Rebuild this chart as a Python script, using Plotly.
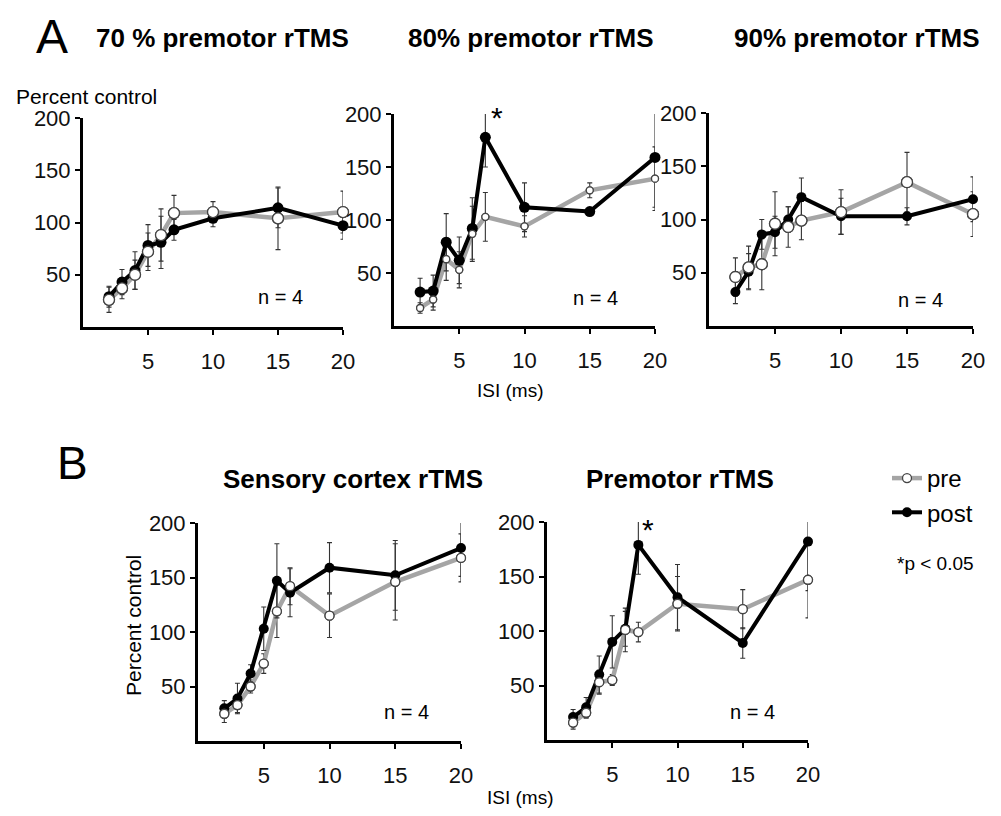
import plotly.graph_objects as go

# The page body has an 8px margin: size the figure so it fits the window exactly.
OFF = 8
W, H = 1001 - 2 * OFF, 816 - 2 * OFF

# ---------------- data ----------------
isi = [2, 3, 4, 5, 6, 7, 10, 15, 20]
x_ticks = [5, 10, 15, 20]
y_ticks = [50, 100, 150, 200]

# Panel A: 70 % premotor rTMS
a70_pre = [26, 37, 50, 72, 88, 109, 110, 104, 110]
a70_pre_err = [12, 10, 14, 18, 25, 17, 10, 30, 20]
a70_post = [29, 43, 54, 78, 81, 93, 104, 114, 97]
a70_post_err = [10, 12, 18, 20, 25, 10, 8, 19, 13]

# Panel A: 80% premotor rTMS
a80_pre = [17, 25, 63, 53, 87, 103, 94, 128, 139]
a80_pre_err = [5, 10, 20, 17, 26, 23, 10, 7, 30]
a80_post = [32, 33, 79, 62, 92, 178, 112, 108, 159]
a80_post_err = [13, 15, 27, 22, 29, 28, 23, 3, 47]

# Panel A: 90% premotor rTMS
a90_pre = [46, 55, 58, 96, 93, 99, 107, 135, 105]
a90_pre_err = [18, 20, 24, 30, 19, 18, 21, 28, 21]
a90_post = [32, 51, 86, 88, 100, 121, 103, 103, 119]
a90_post_err = [11, 17, 14, 15, 12, 18, 17, 8, 21]

# Panel B: Sensory cortex rTMS
bs_pre = [25, 33, 50, 71, 119, 142, 115, 146, 168]
bs_pre_err = [8, 7, 6, 9, 24, 17, 20, 35, 22]
bs_post = [30, 39, 62, 103, 147, 136, 159, 152, 177]
bs_post_err = [7, 14, 8, 20, 34, 22, 23, 32, 26]

# Panel B: Premotor rTMS
bp_pre = [16, 25, 53, 55, 101, 99, 125, 120, 147]
bp_pre_err = [6, 5, 11, 5, 20, 9, 25, 18, 35]
bp_post = [21, 30, 60, 90, 102, 179, 131, 89, 182]
bp_post_err = [7, 9, 17, 24, 16, 27, 30, 14, 45]

titles = ["70 % premotor rTMS", "80% premotor rTMS", "90% premotor rTMS",
          "Sensory cortex rTMS", "Premotor rTMS"]

# ---------------- layout helpers ----------------
FONT = "Liberation Sans, Arial, Helvetica, sans-serif"

def px(p):
    return (p - OFF) / W

def py(p):
    return 1 - (p - OFF) / H

def dx(p0, p1):
    return [px(p0), px(p1)]

def dy(p0, p1):
    return [py(p1), py(p0)]

# pixel boxes (left, right, top, bottom) of each plotting area, in window pixels
boxes = [
    (83, 343, 118, 327),
    (394, 655, 114, 326),
    (709, 973, 113, 326),
    (198, 461, 523, 741),
    (547, 808, 522, 740),
]
pre_sizes = [11, 7, 11, 9, 9]
post_sizes = [11, 11, 10, 10, 10]

panels = [
    (a70_pre, a70_pre_err, a70_post, a70_post_err),
    (a80_pre, a80_pre_err, a80_post, a80_post_err),
    (a90_pre, a90_pre_err, a90_post, a90_post_err),
    (bs_pre, bs_pre_err, bs_post, bs_post_err),
    (bp_pre, bp_pre_err, bp_post, bp_post_err),
]

fig = go.Figure()
GRAY = "#a5a5a5"
ERR = dict(type="data", thickness=1.1, width=2.5, color="#333333")

for i, (pre, pre_e, post, post_e) in enumerate(panels):
    xa = "x" if i == 0 else f"x{i+1}"
    ya = "y" if i == 0 else f"y{i+1}"
    leg = (i == 4)
    fig.add_trace(go.Scatter(
        x=isi, y=pre, xaxis=xa, yaxis=ya, mode="lines+markers", name="pre",
        line=dict(color=GRAY, width=4.5),
        marker=dict(symbol="circle", size=pre_sizes[i], color="white",
                    line=dict(color="#444444", width=1.3)),
        error_y=dict(array=pre_e, **ERR),
        cliponaxis=False, showlegend=leg, legendgroup="pre"))
    fig.add_trace(go.Scatter(
        x=isi, y=post, xaxis=xa, yaxis=ya, mode="lines+markers", name="post",
        line=dict(color="black", width=4),
        marker=dict(symbol="circle", size=post_sizes[i], color="black"),
        error_y=dict(array=post_e, **ERR),
        cliponaxis=False, showlegend=leg, legendgroup="post"))
    fig.add_trace(go.Scatter(
        x=isi, y=pre, xaxis=xa, yaxis=ya, mode="markers", name="pre",
        marker=dict(symbol="circle", size=pre_sizes[i], color="white",
                    line=dict(color="#444444", width=1.3)),
        cliponaxis=False, showlegend=False, legendgroup="pre",
        hoverinfo="skip"))

layout = dict(
    width=W, height=H,
    margin=dict(l=0, r=0, t=0, b=0, pad=0, autoexpand=False),
    paper_bgcolor="white", plot_bgcolor="white",
    font=dict(family=FONT, color="black"),
    showlegend=True,
    legend=dict(x=px(887), y=py(456), xanchor="left", yanchor="top",
                font=dict(size=24, family=FONT), bgcolor="rgba(0,0,0,0)",
                tracegroupgap=0, itemwidth=30),
)

for i, (l, r, t, b) in enumerate(boxes):
    xk = "xaxis" if i == 0 else f"xaxis{i+1}"
    yk = "yaxis" if i == 0 else f"yaxis{i+1}"
    ya = "y" if i == 0 else f"y{i+1}"
    xa = "x" if i == 0 else f"x{i+1}"
    common = dict(showline=True, linewidth=3, linecolor="black", ticks="outside",
                  ticklen=5, tickwidth=2, tickcolor="black", showgrid=False,
                  zeroline=False, tickfont=dict(size=22, family=FONT, color="#111"),
                  fixedrange=True, automargin=False)
    layout[xk] = dict(domain=dx(l, r), range=[0, 20], tickvals=x_ticks,
                      anchor=ya, ticklabelstandoff=8, **common)
    layout[yk] = dict(domain=dy(t, b), range=[0, 200], tickvals=y_ticks,
                      anchor=xa, **common)

fig.update_layout(**layout)

def ann(text, x, y, size, bold=False, angle=0, xanchor="center"):
    fig.add_annotation(
        text=f"<b>{text}</b>" if bold else text,
        x=px(x), y=py(y), xref="paper", yref="paper",
        xanchor=xanchor, yanchor="middle", showarrow=False, textangle=angle,
        font=dict(size=size, family=FONT, color="black"))

ann("A", 52, 36, 48)
ann("B", 72, 463, 46)
ann(titles[0], 222, 38, 26, bold=True)
ann(titles[1], 531, 38, 26, bold=True)
ann(titles[2], 857, 38, 26, bold=True)
ann(titles[3], 353, 479, 26, bold=True)
ann(titles[4], 680, 479, 26, bold=True)
ann("Percent control", 86, 97, 21)
ann("Percent control", 133, 625, 21, angle=-90)
for (x, y) in [(280, 297), (595, 298), (920, 300), (406, 712), (752, 712)]:
    ann("n = 4", x, y, 20)
ann("ISI (ms)", 510, 390, 19)
ann("ISI (ms)", 520, 797, 19)
ann("*", 497, 118, 30)
ann("*", 648, 529, 30)
ann("*p < 0.05", 935, 563, 19)

fig.write_html("out.html")
